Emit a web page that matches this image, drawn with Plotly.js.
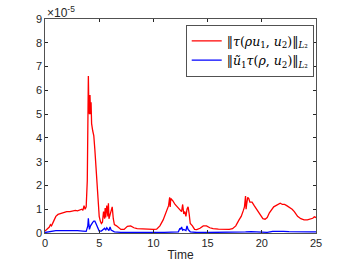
<!DOCTYPE html>
<html><head><meta charset="utf-8">
<script src="https://cdn.plot.ly/plotly-3.0.1.min.js"></script>
<style>html,body{margin:0;padding:0;background:#fff}</style>
</head><body><div id="c" style="width:349px;height:262px"></div>
<script>
const timeRed = [0,0.2,0.4,0.5,0.6,0.8,1.0,1.2,1.5,1.8,2.0,2.3,2.5,2.8,3.0,3.2,3.4,3.5,3.6,3.7,3.8,3.9,3.95,4.0,4.05,4.1,4.15,4.2,4.25,4.3,4.4,4.5,4.6,4.7,4.8,4.9,5.0,5.1,5.2,5.3,5.4,5.5,5.55,5.6,5.7,5.8,5.85,5.9,6.0,6.1,6.2,6.3,6.4,6.6,6.8,7.0,7.3,7.6,7.9,8.2,8.5,9.0,9.5,10.0,10.3,10.6,10.9,11.1,11.3,11.4,11.5,11.55,11.6,11.7,11.8,12.0,12.2,12.4,12.6,12.7,12.8,12.9,13.0,13.1,13.2,13.3,13.4,13.6,13.8,14.0,14.3,14.6,14.9,15.2,15.5,16.0,16.5,17.0,17.3,17.6,17.9,18.1,18.3,18.4,18.5,18.55,18.6,18.7,18.8,18.9,19.1,19.3,19.5,19.7,19.9,20.1,20.3,20.5,20.7,20.9,21.1,21.3,21.5,21.7,21.9,22.1,22.3,22.5,22.8,23.0,23.3,23.6,23.9,24.2,24.5,24.7,24.85,25.0];
const redVals = [0.08,0.15,0.25,0.35,0.3,0.5,0.7,0.78,0.82,0.85,0.9,0.9,0.93,0.95,0.93,0.97,1.0,0.95,1.15,1.0,1.1,2.2,4.5,6.6,5.2,5.0,5.8,5.0,5.5,4.6,4.3,4.1,3.5,2.8,2.0,1.3,0.7,0.5,0.4,0.45,0.9,0.6,1.05,0.65,1.15,0.7,1.25,0.6,0.8,0.9,1.1,0.6,0.35,0.3,0.22,0.15,0.15,0.28,0.3,0.22,0.18,0.16,0.16,0.15,0.16,0.3,0.55,0.8,1.0,1.15,1.5,1.1,1.45,1.4,1.35,1.2,1.1,1.0,0.9,1.2,0.8,0.9,0.7,1.0,1.1,0.8,0.4,0.3,0.15,0.14,0.2,0.3,0.3,0.22,0.18,0.16,0.15,0.15,0.18,0.3,0.55,0.7,0.95,1.1,1.55,1.0,1.2,1.5,1.45,1.3,1.3,1.15,1.0,0.85,0.7,0.6,0.58,0.65,0.85,1.0,1.1,1.15,1.2,1.25,1.2,1.2,1.15,1.1,1.0,0.9,0.7,0.6,0.55,0.55,0.58,0.62,0.68,0.65];
const timeBlue = [0,0.3,0.6,1.0,1.5,2.0,2.5,3.0,3.5,3.8,3.95,4.0,4.05,4.1,4.2,4.3,4.4,4.5,4.6,4.7,4.8,5.0,5.2,5.4,5.5,5.6,5.7,5.9,6.0,6.1,6.2,6.4,7.0,8.0,9.0,10.0,11.0,12.0,12.3,12.45,12.5,12.6,12.7,12.8,13.0,13.1,13.2,13.4,14.0,15.0,16.0,17.0,18.0,18.5,19.0,19.5,20.0,20.5,21.0,21.5,22.0,22.5,23.0,23.5,24.0,24.5,25.0];
const blueVals = [0.02,0.05,0.08,0.1,0.1,0.11,0.12,0.1,0.08,0.07,0.3,0.62,0.35,0.15,0.3,0.4,0.45,0.5,0.5,0.4,0.3,0.08,0.08,0.18,0.2,0.12,0.22,0.1,0.25,0.12,0.1,0.05,0.03,0.02,0.02,0.02,0.03,0.03,0.05,0.2,0.15,0.25,0.12,0.15,0.1,0.3,0.15,0.05,0.02,0.02,0.02,0.02,0.03,0.05,0.06,0.04,0.03,0.03,0.07,0.08,0.07,0.06,0.05,0.05,0.05,0.05,0.05];
const xTicks = [0,5,10,15,20,25];
const yTicks = [0,1,2,3,4,5,6,7,8,9];
const xTitle = "Time";
const legendRed = "‖<i>τ</i>(<i>ρu</i><sub>1</sub>, <i>u</i><sub>2</sub>)‖<sub><i>L</i>₂</sub>";
const legendBlue = "‖<i>ũ</i><sub>1</sub><i>τ</i>(<i>ρ</i>, <i>u</i><sub>2</sub>)‖<sub><i>L</i>₂</sub>";

const traces = [
 {x: timeRed, y: redVals, mode:'lines', name: legendRed, line:{color:'#ff0000', width:1.3}},
 {x: timeBlue, y: blueVals, mode:'lines', name: legendBlue, line:{color:'#0000ff', width:1.3}}
];
const axisCommon = {showgrid:false, zeroline:false, showline:true, mirror:'ticks', linecolor:'#262626', linewidth:0.8,
  ticks:'inside', ticklen:3, tickcolor:'#262626', tickfont:{family:'Liberation Sans, Arial', size:11, color:'#262626'}};
const layout = {
 width:349, height:262, margin:{l:45,r:33,t:19,b:29}, paper_bgcolor:'#fff', plot_bgcolor:'#fff',
 font:{family:'Liberation Sans, Arial', color:'#262626'},
 xaxis: Object.assign({}, axisCommon, {range:[0,25], tickvals:xTicks, ticktext:xTicks.map(String),
   title:{text:xTitle, font:{size:12, color:'#262626'}, standoff:2}}),
 yaxis: Object.assign({}, axisCommon, {range:[0,9], tickvals:yTicks, ticktext:yTicks.map(String)}),
 showlegend:true,
 legend:{x:0.52, y:0.97, xanchor:'left', yanchor:'top', bgcolor:'#fff', bordercolor:'#262626', borderwidth:0.8,
   font:{family:'DejaVu Serif, Liberation Serif', size:12.5, color:'#000'}, tracegroupgap:0, itemwidth:30},
 annotations:[{xref:'paper', yref:'paper', x:0, y:1, xanchor:'left', yanchor:'bottom', yshift:-3, showarrow:false,
   text:'×10<sup>-5</sup>', font:{family:'Liberation Sans, Arial', size:12, color:'#262626'}}]
};
Plotly.newPlot('c', traces, layout, {displayModeBar:false, staticPlot:true});
</script></body></html>
